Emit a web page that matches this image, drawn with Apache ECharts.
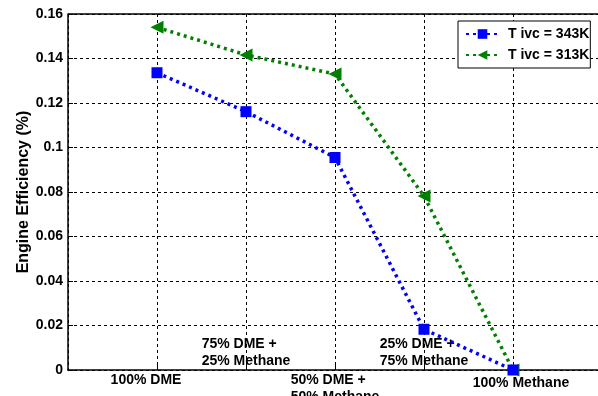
<!DOCTYPE html>
<html><head><meta charset="utf-8">
<script src="https://cdn.jsdelivr.net/npm/echarts@6/dist/echarts.min.js"></script>
<style>html,body{margin:0;padding:0;background:#fff}#c{width:598px;height:396px}</style>
</head><body><div id="c"></div>
<script>
const categories = ['100% DME', '75% DME +\n25% Methane', '50% DME +\n50% Methane', '25% DME +\n75% Methane', '100% Methane'];
const xPos = [1, 2, 3, 4, 5];
const series343 = [0.1336, 0.1161, 0.0955, 0.0183, 0.0];
const series313 = [0.1540, 0.1416, 0.1330, 0.0782, 0.0];
const seriesNames = ['T ivc = 343K', 'T ivc = 313K'];
const yTicks = [0, 0.02, 0.04, 0.06, 0.08, 0.1, 0.12, 0.14, 0.16];

const font = 'Liberation Sans, Arial, sans-serif';
const chart = echarts.init(document.getElementById('c'), null, {renderer: 'canvas'});

function labelFor(v, below) {
  const i = xPos.indexOf(v);
  if (i < 0) return '';
  const isBelow = (i % 2 === 0);
  if (isBelow !== below) return '';
  const lines = categories[i].split('\n');
  const style = i === 0 ? 'a' : (i === 4 ? 'c' : 'l');
  return lines.map(s => '{' + style + '|' + s + '}').join('\n');
}
const rich = {
  a: {fontSize: 14, fontWeight: 'bold', fontFamily: font, color: '#000', padding: [0, 22, 0, 0], lineHeight: 17},
  c: {fontSize: 14, fontWeight: 'bold', fontFamily: font, color: '#000', padding: [0, 0, 0, 16], lineHeight: 23},
  l: {fontSize: 14, fontWeight: 'bold', fontFamily: font, color: '#000', align: 'left', lineHeight: 17}
};

chart.setOption({
  animation: false,
  backgroundColor: '#fff',
  grid: {left: 68, top: 14, width: 534, height: 356, show: false, outerBoundsMode: 'none', containLabel: false},
  legend: {
    left: 458, top: 21, orient: 'vertical',
    backgroundColor: '#fff', borderColor: '#000', borderWidth: 1, borderRadius: 0,
    padding: [6, 1, 6, 7], itemGap: 7, itemWidth: 33, itemHeight: 12,
    textStyle: {fontSize: 14, fontWeight: 'bold', fontFamily: font, color: '#000', padding: [0, 0, 0, 4]},
    data: seriesNames
  },
  xAxis: [{
    type: 'value', min: 0, max: 6, interval: 1,
    axisLine: {show: true, lineStyle: {color: '#000', width: 1.5}},
    axisTick: {show: true, inside: true, length: 5, lineStyle: {color: '#000'}},
    axisLabel: {margin: 2, formatter: v => labelFor(v, true), rich: rich, showMinLabel: false, showMaxLabel: false},
    splitLine: {show: true, lineStyle: {color: '#000', type: [3, 3], width: 1}}
  }, {
    type: 'value', min: 0, max: 6, interval: 1, position: 'bottom',
    axisLine: {show: false}, axisTick: {show: false}, splitLine: {show: false},
    axisLabel: {inside: true, margin: 0, formatter: v => labelFor(v, false), rich: rich}
  }],
  yAxis: {
    type: 'value', min: 0, max: 0.16, interval: 0.02,
    name: 'Engine Efficiency (%)', nameLocation: 'middle', nameGap: 36, nameMoveOverlap: false,
    nameTextStyle: {fontSize: 16, fontWeight: 'bold', fontFamily: font, color: '#000'},
    axisLine: {show: true, lineStyle: {color: '#000', width: 1.5}},
    axisTick: {show: true, inside: true, length: 5, lineStyle: {color: '#000'}},
    axisLabel: {margin: 5, fontSize: 14, fontWeight: 'bold', fontFamily: font, color: '#000',
      formatter: v => String(parseFloat(v.toFixed(2)))},
    splitLine: {show: true, lineStyle: {color: '#000', type: [3, 3], width: 1}}
  },
  series: [{
    name: seriesNames[0], type: 'line',
    data: xPos.map((x, i) => [x, series343[i]]),
    symbol: 'rect', symbolSize: 11,
    itemStyle: {color: '#0000ff'},
    lineStyle: {color: '#0000ff', width: 3.5, type: [3, 4]},
    z: 3
  }, {
    name: seriesNames[1], type: 'line',
    data: xPos.map((x, i) => [x, series313[i]]),
    symbol: 'triangle', symbolRotate: 90, symbolSize: 13,
    itemStyle: {color: '#008000'},
    lineStyle: {color: '#008000', width: 3.5, type: [3, 4]},
    z: 2
  }, {
    type: 'line', data: [],
    markLine: {
      silent: true, symbol: 'none', label: {show: false},
      lineStyle: {color: '#000', type: 'solid', width: 1.5},
      data: [{yAxis: 0.16}]
    }
  }]
});
</script></body></html>
